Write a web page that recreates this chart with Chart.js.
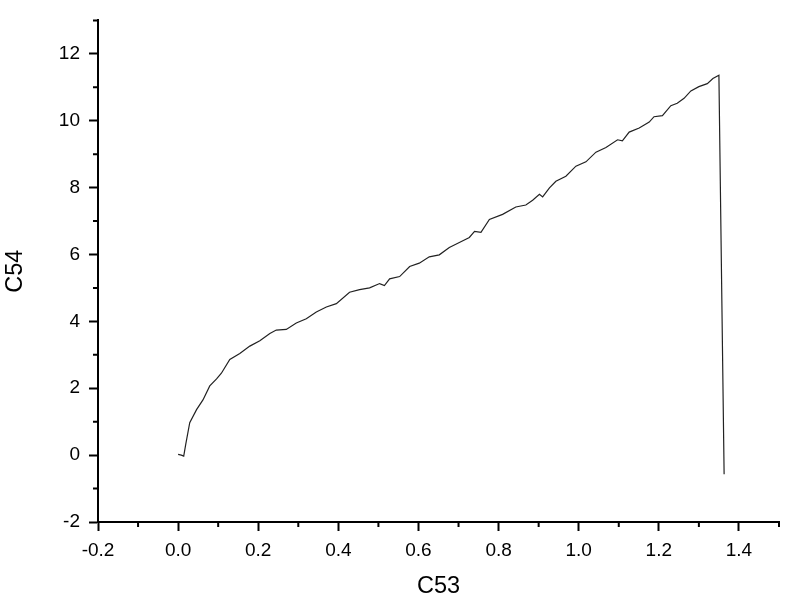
<!DOCTYPE html>
<html>
<head>
<meta charset="utf-8">
<script src="https://cdn.jsdelivr.net/npm/chart.js@4/dist/chart.umd.min.js"></script>
<style>
  html, body { margin: 0; padding: 0; background: #fff; }
  #wrap { width: 800px; height: 612px; }
</style>
</head>
<body>
<div id="wrap"><canvas id="plot" width="800" height="612"></canvas></div>
<script>
// data
const c53 = [0.000, 0.008, 0.014, 0.019, 0.029, 0.046, 0.062, 0.079, 0.096, 0.108,
  0.129, 0.154, 0.179, 0.204, 0.229, 0.245, 0.270, 0.295, 0.320, 0.345,
  0.370, 0.395, 0.428, 0.453, 0.478, 0.503, 0.515, 0.528, 0.553, 0.578,
  0.602, 0.627, 0.652, 0.677, 0.702, 0.727, 0.740, 0.756, 0.777, 0.810,
  0.843, 0.868, 0.885, 0.902, 0.910, 0.927, 0.943, 0.968, 0.993, 1.018,
  1.043, 1.068, 1.097, 1.109, 1.126, 1.151, 1.176, 1.188, 1.209, 1.230,
  1.246, 1.263, 1.280, 1.300, 1.321, 1.335, 1.350, 1.363];
const c54 = [0.02, 0.00, -0.03, 0.32, 0.97, 1.36, 1.65, 2.07, 2.28, 2.45,
  2.86, 3.04, 3.26, 3.42, 3.64, 3.74, 3.76, 3.95, 4.08, 4.28,
  4.43, 4.53, 4.87, 4.95, 5.00, 5.13, 5.07, 5.27, 5.34, 5.64,
  5.74, 5.93, 5.99, 6.21, 6.36, 6.51, 6.69, 6.66, 7.05, 7.20,
  7.42, 7.48, 7.62, 7.80, 7.72, 7.99, 8.19, 8.34, 8.64, 8.77,
  9.06, 9.20, 9.43, 9.40, 9.66, 9.78, 9.96, 10.12, 10.15, 10.45,
  10.52, 10.67, 10.89, 11.02, 11.11, 11.26, 11.36, -0.57];

// axis ranges and ticks
const xMin = -0.2, xMax = 1.5, xStep = 0.2;
const yMin = -2, yMax = 13, yStep = 2;
const xMinorTicks = [-0.1, 0.1, 0.3, 0.5, 0.7, 0.9, 1.1, 1.3, 1.5];
const yMinorTicks = [-1, 1, 3, 5, 7, 9, 11, 13];

const points = c53.map((x, i) => ({ x: x, y: c54[i] }));

// Origin style short minor ticks, drawn at scale positions
const minorTicks = {
  id: 'minorTicks',
  afterDraw(chart) {
    const ctx = chart.ctx;
    const xs = chart.scales.x, ys = chart.scales.y;
    ctx.save();
    ctx.strokeStyle = '#000';
    ctx.lineWidth = 2;
    ctx.beginPath();
    xMinorTicks.forEach(v => {
      const px = xs.getPixelForValue(v);
      ctx.moveTo(px, xs.top);
      ctx.lineTo(px, xs.top + 5);
    });
    yMinorTicks.forEach(v => {
      const py = ys.getPixelForValue(v);
      ctx.moveTo(ys.right, py);
      ctx.lineTo(ys.right - 5, py);
    });
    ctx.stroke();
    ctx.restore();
  }
};

const tickFont = { family: 'Liberation Sans, Arial, sans-serif', size: 19 };
const titleFont = { family: 'Liberation Sans, Arial, sans-serif', size: 23.5 };

new Chart(document.getElementById('plot'), {
  type: 'scatter',
  data: {
    datasets: [{
      data: points,
      showLine: true,
      borderColor: '#222',
      borderWidth: 1.2,
      pointRadius: 0,
      tension: 0
    }]
  },
  options: {
    responsive: false,
    animation: false,
    layout: { padding: { left: 0, top: 18, right: 21, bottom: 0 } },
    plugins: { legend: { display: false }, tooltip: { enabled: false } },
    scales: {
      x: {
        type: 'linear',
        min: xMin, max: xMax,
        afterFit(s) { s.height = 90; },
        border: { display: true, color: '#000', width: 2 },
        grid: { drawOnChartArea: false, drawTicks: true, tickLength: 9, tickWidth: 2, tickColor: '#000' },
        ticks: {
          stepSize: xStep, includeBounds: false, color: '#000', font: tickFont, padding: 8,
          maxRotation: 0,
          callback: v => v.toFixed(1)
        },
        title: { display: true, text: 'C53', color: '#000', font: titleFont, padding: { top: 0, bottom: 11 } }
      },
      y: {
        type: 'linear',
        min: yMin, max: yMax,
        afterFit(s) { s.width = 98; },
        border: { display: true, color: '#000', width: 2 },
        grid: { drawOnChartArea: false, drawTicks: true, tickLength: 9, tickWidth: 2, tickColor: '#000' },
        ticks: {
          stepSize: yStep, includeBounds: false, color: '#000', font: tickFont, padding: 9,
          callback: v => String(v)
        },
        title: { display: true, text: 'C54', color: '#000', font: titleFont, padding: { top: 1, bottom: 0 } }
      }
    }
  },
  plugins: [minorTicks]
});
</script>
</body>
</html>
